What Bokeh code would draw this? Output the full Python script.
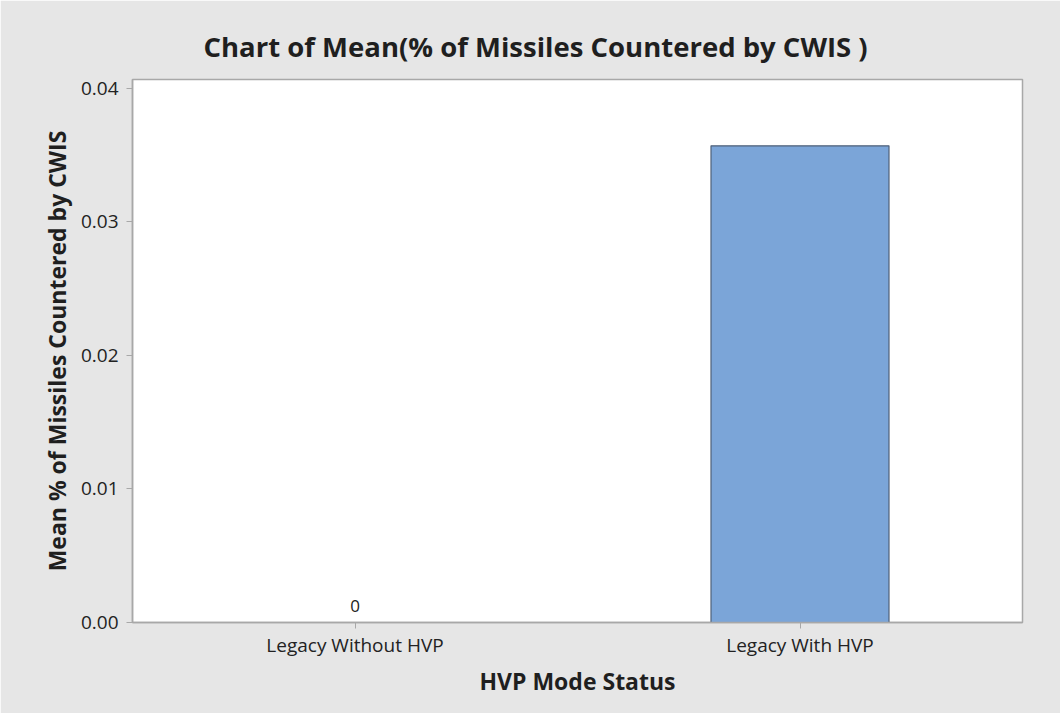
from bokeh.plotting import figure
from bokeh.models import ColumnDataSource, Range1d, FixedTicker, CustomJSTickFormatter
from bokeh.embed import file_html
from bokeh.resources import INLINE
from bokeh.core.properties import value

categories = ["Legacy Without HVP", "Legacy With HVP"]
means = [0.0, 0.0357]
bar_labels = ["0", ""]
y_ticks = [0.00, 0.01, 0.02, 0.03, 0.04]

FONT = "Open Sans"

src = ColumnDataSource(dict(cat=categories, mean=means, lab=bar_labels))

p = figure(
    width=1060, height=713,
    x_range=categories,
    y_range=Range1d(0, 0.04067),
    output_backend="svg",
    toolbar_location=None,
    title="Chart of Mean(% of Missiles Countered by CWIS )",
    min_border_left=132, min_border_right=38,
    min_border_top=79, min_border_bottom=91,
)

p.background_fill_color = "white"
p.border_fill_color = "#e6e6e6"
p.outline_line_color = "#a8a8a8"
p.outline_line_width = 1.5

p.title.text_font = FONT
p.title.text_font_size = "27.5px"
p.title.text_font_style = "bold"
p.title.text_color = "#1f1f1f"
p.title.align = "left"
p.title.offset = 71
p.title.standoff = 30

p.vbar(x="cat", top="mean", width=0.4, source=src,
       fill_color="#7ba5d8", line_color="#4f6078", line_width=1.2)

p.text(x="cat", y=0, text="lab", source=src,
       text_font=value(FONT), text_font_size="17px", text_color="#222222",
       text_align="center", text_baseline="alphabetic", y_offset=-17)

p.xgrid.visible = False
p.ygrid.visible = False

p.yaxis.ticker = FixedTicker(ticks=y_ticks)
p.yaxis.formatter = CustomJSTickFormatter(code="return tick.toFixed(2);")

for ax in (p.xaxis[0], p.yaxis[0]):
    ax.axis_line_color = "#a8a8a8"
    ax.axis_line_width = 1.5
    ax.major_tick_line_color = "#a8a8a8"
    ax.major_tick_in = 0
    ax.major_tick_out = 6
    ax.minor_tick_line_color = None
    ax.major_label_text_font = FONT
    ax.major_label_text_font_size = "19px"
    ax.major_label_text_color = "#222222"
    ax.axis_label_text_font = FONT
    ax.axis_label_text_font_style = "bold"
    ax.axis_label_text_color = "#1f1f1f"

p.yaxis.axis_label = "Mean % of Missiles Countered by CWIS"
p.yaxis.axis_label_text_font_size = "23px"
p.yaxis.major_label_standoff = 8
p.yaxis.axis_label_standoff = 5

p.xaxis.axis_label = "HVP Mode Status"
p.xaxis.axis_label_text_font_size = "23px"
p.xaxis.major_label_standoff = 3
p.xaxis.axis_label_standoff = 4
p.xaxis.major_label_orientation = "horizontal"

open("out.html", "w").write(file_html(p, INLINE))
